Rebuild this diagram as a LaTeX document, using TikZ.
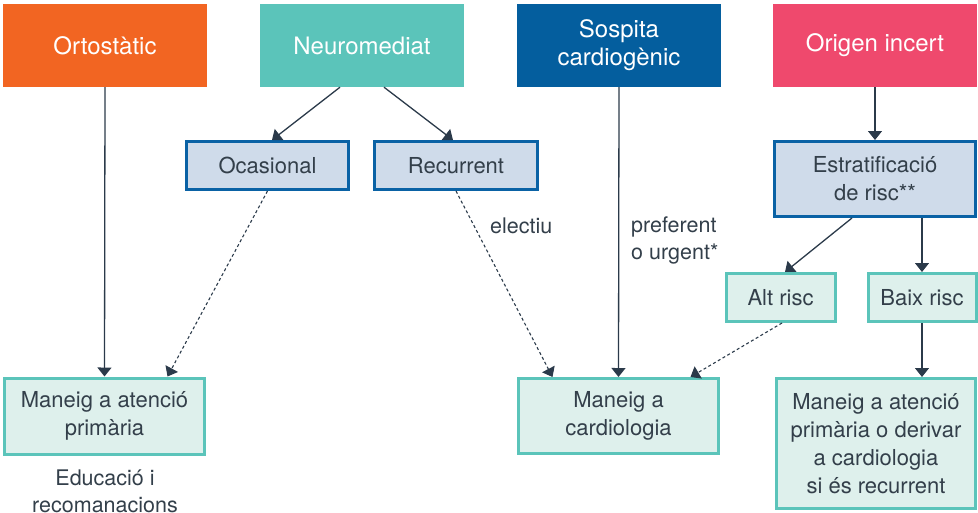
\documentclass[tikz,border=0pt]{standalone}
\usepackage{fontspec}
\setmainfont{TeX Gyre Heros}
\usetikzlibrary{arrows.meta}

\definecolor{orangeC}{HTML}{F26522}
\definecolor{tealC}{HTML}{5BC4BA}
\definecolor{blueC}{HTML}{045E9E}
\definecolor{pinkC}{HTML}{EF496D}
\definecolor{paleblue}{HTML}{CFDBEA}
\definecolor{boxblue}{HTML}{0A62A5}
\definecolor{paleteal}{HTML}{DEF0EC}
\definecolor{inkC}{HTML}{333F4A}
\definecolor{lineC}{HTML}{2B3A4A}

\begin{document}
\begin{tikzpicture}[x=1pt,y=-1pt,>={Triangle[width=14pt,length=9pt]}]

        \tikzstyle{headbox}=[draw=none,text=white,minimum width=204pt,minimum height=83pt,align=center,
          inner sep=0pt,font=\fontsize{24}{28}\selectfont]
        \tikzstyle{subbox}=[draw=boxblue,fill=paleblue,line width=3pt,text=inkC,align=center,inner sep=0pt,
          font=\fontsize{22}{28}\selectfont]
        \tikzstyle{endbox}=[draw=tealC,fill=paleteal,line width=3pt,text=inkC,align=center,inner sep=0pt,
          font=\fontsize{22}{28}\selectfont]
        \tikzstyle{note}=[text=inkC,inner sep=0pt,align=left,font=\fontsize{21.5}{27}\selectfont]
        \tikzstyle{flow}=[->,draw=lineC,fill=none,line width=1.3pt]
        \tikzstyle{flowdash}=[flow,dash pattern=on 3pt off 2.5pt,line width=1.1pt]

        \useasboundingbox (0,0) rectangle (978,512);

        % top row
        \node[headbox,fill=orangeC] (orto)  at (105,45.5) {Ortostàtic};
        \node[headbox,fill=tealC]   (neuro) at (362,45.5) {Neuromediat};
        \node[headbox,fill=blueC]   (sosp)  at (619,45.5) {Sospita\\cardiogènic};
        \node[headbox,fill=pinkC]   (orig)  at (875,45.5) {Origen incert};

        % middle
        \node[subbox,minimum width=162pt,minimum height=48pt] (ocas)   at (267.5,165.5) {Ocasional};
        \node[subbox,minimum width=163pt,minimum height=48pt] (recur)  at (456,165.5) {Recurrent};
        \node[subbox,minimum width=201pt,minimum height=75pt] (estrat) at (875,179) {Estratificació\\de risc**};
        \node[endbox,minimum width=109pt,minimum height=48pt] (alt)    at (780.5,297.5) {Alt risc};
        \node[endbox,minimum width=108pt,minimum height=48pt] (baix)   at (922,297.5) {Baix risc};

        % bottom row
        \node[endbox,minimum width=200pt,minimum height=76pt] (mapc)  at (104.5,416) {Maneig a atenció\\primària};
        \node[endbox,minimum width=200pt,minimum height=75pt] (mcard) at (618.5,416) {Maneig a\\cardiologia};
        \node[endbox,minimum width=199pt,minimum height=130pt] (mder) at (876,443.5)
          {Maneig a atenció\\primària o derivar\\a cardiologia\\si és recurrent};

        \node[note,align=center,anchor=north] (educ) at (105,470) {Educació i\\recomanacions};
        \node[note,anchor=base west] (elect) at (490,233) {electiu};
        \node[note,anchor=north west] (pref) at (631,217) {preferent\\o urgent*};

        \draw[flow] (orto.south) -- (mapc.north);
        \draw[flow] ([xshift=-22pt]neuro.south) -- ([xshift=4.5pt]ocas.north);
        \draw[flow] ([xshift=22pt]neuro.south) -- ([xshift=-3pt]recur.north);
        \draw[flowdash] (ocas.south) -- ([xshift=63pt]mapc.north);
        \draw[flowdash] (recur.south) -- ([xshift=-66pt]mcard.north);
        \draw[flow] (sosp.south) -- (mcard.north);
        \draw[flow] (orig.south) -- (estrat.north);
        \draw[flow] ([xshift=-23pt]estrat.south) -- ([xshift=4.5pt]alt.north);
        \draw[flow] ([xshift=47pt]estrat.south) -- (baix.north);
        \draw[flowdash] ([xshift=1.5pt]alt.south) -- ([xshift=72pt]mcard.north);
        \draw[flow] (baix.south) -- ([xshift=46pt]mder.north);
    \end{tikzpicture}
\end{document}
